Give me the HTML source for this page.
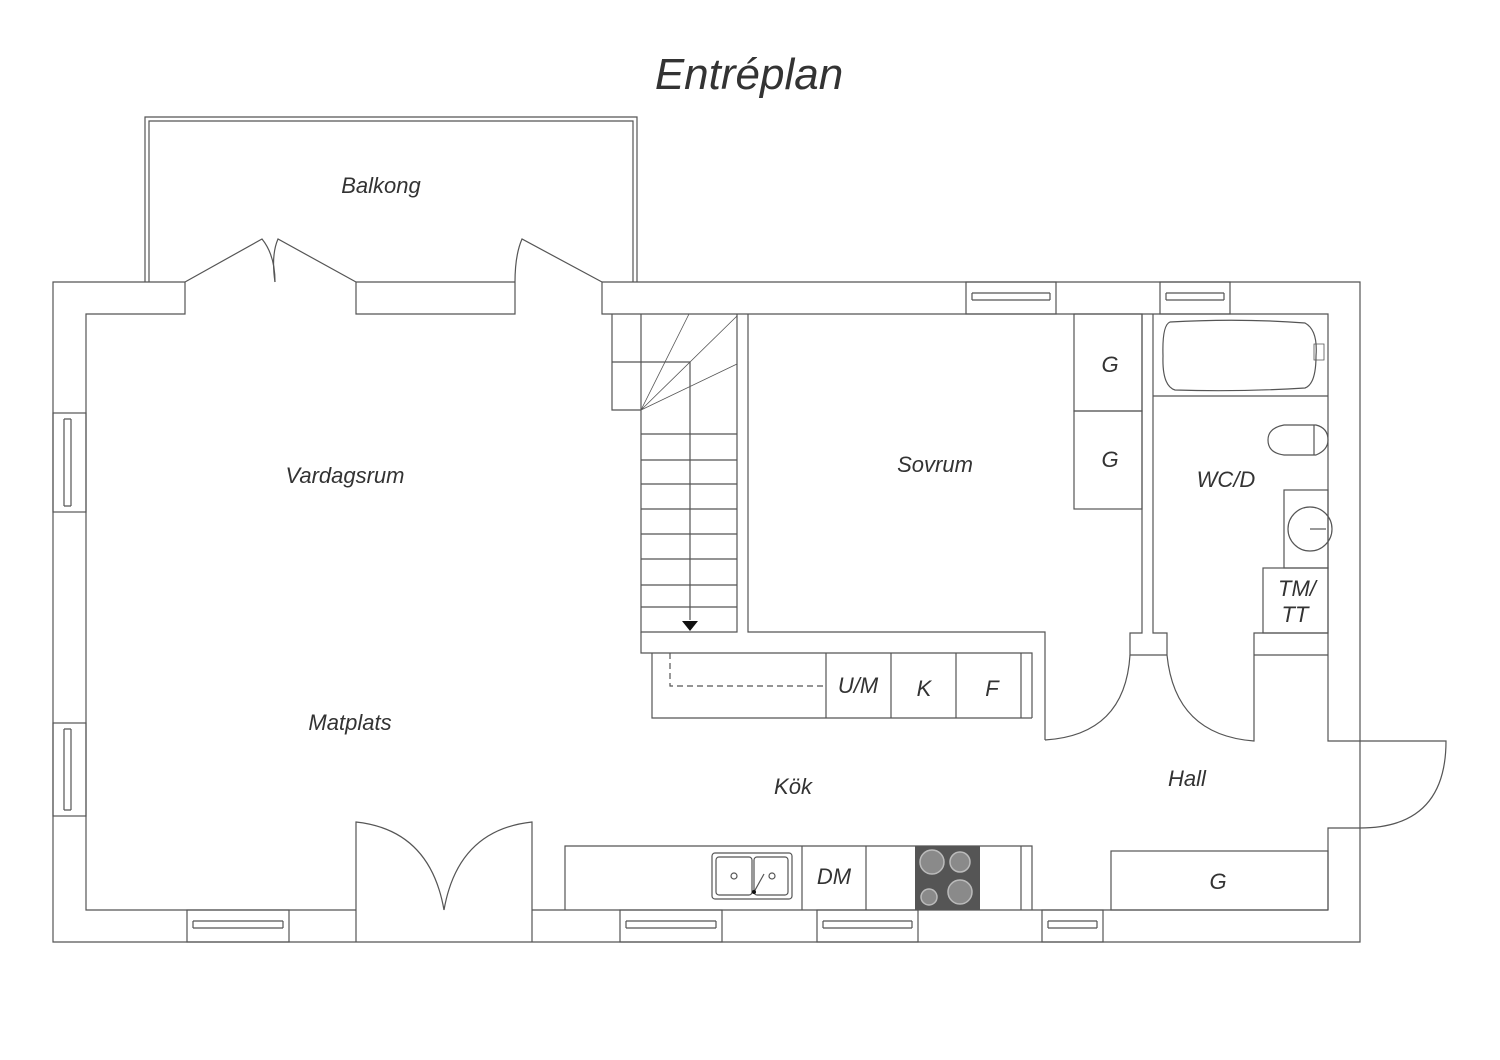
<!DOCTYPE html>
<html><head><meta charset="utf-8"><style>
html,body{margin:0;padding:0;background:#fff;}
svg{display:block}
text{font-family:"Liberation Sans",sans-serif;font-style:italic;fill:#333;}
</style></head><body>
<svg width="1500" height="1060" viewBox="0 0 1500 1060" xmlns="http://www.w3.org/2000/svg">
<g fill="none" stroke="#555" stroke-width="1.2">
<path d="M145 282 V117 H637 V282"/>
<path d="M149 282 V121 H633 V282"/>
<path d="M185 282 H53 V942 H1360 V282 H602"/>
<path d="M356 282 H515"/>
<path d="M185 282 V314 H86 V910 H356"/>
<path d="M356 282 V314 H515 V282"/>
<path d="M602 282 V314 H1328 V655"/>
<path d="M185 282 L262 239 Q275 255 275 282"/>
<path d="M356 282 L278 239 Q271 255 275 282"/>
<path d="M602 282 L522 239 Q515 255 515 282"/>
<rect x="966" y="282" width="90" height="32"/>
<path d="M972 293 H1050 M972 300 H1050 M972 293 V300 M1050 293 V300"/>
<rect x="1160" y="282" width="70" height="32"/>
<path d="M1166 293 H1224 M1166 300 H1224 M1166 293 V300 M1224 293 V300"/>
<rect x="53" y="413" width="33" height="99"/>
<path d="M64 419 V506 M71 419 V506 M64 419 H71 M64 506 H71"/>
<rect x="53" y="723" width="33" height="93"/>
<path d="M64 729 V810 M71 729 V810 M64 729 H71 M64 810 H71"/>
<rect x="187" y="910" width="102" height="32"/>
<path d="M193 921 H283 M193 928 H283 M193 921 V928 M283 921 V928"/>
<rect x="620" y="910" width="102" height="32"/>
<path d="M626 921 H716 M626 928 H716 M626 921 V928 M716 921 V928"/>
<rect x="817" y="910" width="101" height="32"/>
<path d="M823 921 H912 M823 928 H912 M823 921 V928 M912 921 V928"/>
<rect x="1042" y="910" width="61" height="32"/>
<path d="M1048 921 H1097 M1048 928 H1097 M1048 921 V928 M1097 921 V928"/>
<path d="M356 942 V822 Q430 830 444 910"/>
<path d="M532 942 V822 Q458 830 444 910"/>
<path d="M532 910 H1328"/>
<path d="M612 314 V410 H641 M612 362 H690"/>
<path d="M641 314 V632 H737 V314"/>
<path d="M690 362 V620"/>
<path d="M641 434 H737 M641 460 H737 M641 484 H737 M641 509 H737 M641 534 H737 M641 559 H737 M641 585 H737 M641 607 H737"/>
<path d="M641 410 L689 314 M641 410 L737 316 M641 410 L737 364" stroke-width="0.8"/>
<path d="M641 632 V653 H1032 V718 M652 653 V718 H1032"/>
<path d="M826 653 V718 M891 653 V718 M956 653 V718 M1021 653 V718"/>
<path d="M670 653 V686 H826" stroke-dasharray="6 4"/>
<path d="M748 314 V632 H1045 V740"/>
<path d="M1142 314 V633 H1130 V655 H1167"/>
<path d="M1130 655 Q1125 735 1045 740"/>
<rect x="1074" y="314" width="68" height="97"/>
<rect x="1074" y="411" width="68" height="98"/>
<path d="M1153 314 V633 H1167 V655"/>
<path d="M1167 655 Q1175 735 1254 741 V633 H1328"/>
<path d="M1254 655 H1328"/>
<path d="M1153 396 H1328"/>
<path d="M1170 322 Q1240 318 1305 323 Q1318 330 1316 356 Q1316 384 1305 388 Q1240 392 1175 390 Q1162 386 1163 356 Q1162 325 1170 322 Z"/>
<path d="M1314 344 h10 v16 h-10 z" stroke-width="0.8"/>
<path d="M1284 425 Q1268 428 1268 440 Q1268 453 1284 455 H1316 Q1328 450 1328 440 Q1328 428 1316 425 Z"/>
<path d="M1314 425 V455"/>
<rect x="1284" y="490" width="44" height="78"/>
<circle cx="1310" cy="529" r="22"/>
<path d="M1310 529 H1326"/>
<rect x="1263" y="568" width="65" height="65"/>
<path d="M1328 655 V741 H1446 Q1446 828 1360 828 H1328 V910"/>
<rect x="1111" y="851" width="217" height="59"/>
<path d="M565 910 V846 H1032 V910 M1021 846 V910 M802 846 V910 M866 846 V910"/>
<rect x="712" y="853" width="80" height="46" rx="3"/>
<rect x="716" y="857" width="36" height="38" rx="3"/>
<rect x="754" y="857" width="34" height="38" rx="3"/>
<circle cx="734" cy="876" r="3"/><circle cx="772" cy="876" r="3"/>
<path d="M754 892 L764 874"/>
</g>
<path d="M682 621 H698 L690 631 Z" fill="#111"/>
<circle cx="754" cy="892" r="2" fill="#111"/>
<rect x="915" y="846" width="65" height="64" fill="#555"/>
<g fill="#8a8a8a" stroke="#bbb" stroke-width="1.5">
<circle cx="932" cy="862" r="12"/><circle cx="960" cy="862" r="10"/>
<circle cx="929" cy="897" r="8"/><circle cx="960" cy="892" r="12"/>
</g>
<text x="749" y="89" font-size="44" text-anchor="middle">Entréplan</text>
<g font-size="22" text-anchor="middle">
<text x="381" y="193">Balkong</text>
<text x="345" y="483">Vardagsrum</text>
<text x="935" y="472">Sovrum</text>
<text x="1110" y="372">G</text>
<text x="1110" y="467">G</text>
<text x="1226" y="487">WC/D</text>
<text x="1297" y="596">TM/</text>
<text x="1295" y="622">TT</text>
<text x="350" y="730">Matplats</text>
<text x="858" y="693">U/M</text>
<text x="924" y="696">K</text>
<text x="992" y="696">F</text>
<text x="793" y="794">Kök</text>
<text x="1187" y="786">Hall</text>
<text x="834" y="884">DM</text>
<text x="1218" y="889">G</text>
</g>
</svg>
</body></html>
